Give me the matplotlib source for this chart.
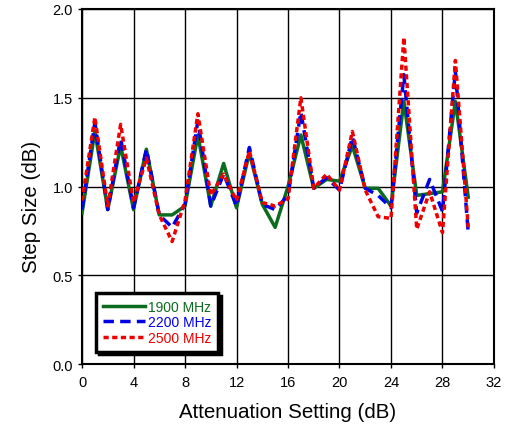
import matplotlib
matplotlib.use('Agg')
import matplotlib.pyplot as plt
import numpy as np

plt.rcParams['font.family'] = ['Liberation Sans', 'DejaVu Sans']

# attenuation setting (dB)
atten = np.arange(0, 31)

# step size (dB)
step_1900 = [0.85, 1.31, 0.87, 1.23, 0.87, 1.21, 0.84, 0.84, 0.89, 1.29,
             0.89, 1.13, 0.88, 1.19, 0.90, 0.77, 1.00, 1.29, 0.99, 1.04,
             1.03, 1.23, 0.99, 0.99, 0.89, 1.48, 0.95, 0.96, 0.97, 1.48, 0.94]
step_2200 = [0.87, 1.36, 0.87, 1.27, 0.88, 1.21, 0.84, 0.77, 0.90, 1.37,
             0.89, 1.07, 0.89, 1.22, 0.90, 0.87, 0.95, 1.42, 0.99, 1.05,
             0.98, 1.28, 0.99, 0.95, 0.88, 1.63, 0.85, 1.04, 0.86, 1.65, 0.74]
step_2500 = [0.92, 1.39, 0.89, 1.35, 0.91, 1.16, 0.84, 0.69, 0.92, 1.41,
             0.95, 1.07, 0.92, 1.20, 0.91, 0.89, 0.93, 1.50, 0.99, 1.07,
             0.98, 1.31, 0.98, 0.83, 0.82, 1.84, 0.76, 0.97, 0.74, 1.71, 0.77]

labels = ['1900 MHz', '2200 MHz', '2500 MHz']
colors = ['#0b6b1f', '#0000e6', '#ee0000']

fig = plt.figure(figsize=(5.05, 4.31), dpi=100)
ax = fig.add_axes([0.1624, 0.1531, 0.8158, 0.8237])

ax.plot(atten, step_1900, color=colors[0], lw=2.5, label=labels[0], zorder=3)
ax.plot(atten, step_2200, color=colors[1], lw=2.5, dashes=(3, 1.8), label=labels[1], zorder=4)
ax.plot(atten, step_2500, color=colors[2], lw=2.5, dashes=(1.5, 1), label=labels[2], zorder=5)

ax.set_xlim(0, 32)
ax.set_ylim(0, 2.0)
ax.set_xticks(np.arange(0, 33, 4))
ax.set_yticks(np.arange(0, 2.01, 0.5))
ax.yaxis.set_major_formatter(matplotlib.ticker.FormatStrFormatter('%.1f'))
ax.grid(True, color='black', lw=1)
ax.tick_params(labelsize=10.5, length=3, width=1, color='black')
ax.tick_params(axis='x', pad=5)
for s in ax.spines.values():
    s.set_linewidth(1.5)

ax.set_xlabel('Attenuation Setting (dB)', fontsize=14.8, labelpad=9)
ax.set_ylabel('Step Size (dB)', fontsize=14.8)
ax.yaxis.set_label_coords(-0.1, 0.445)

leg = ax.legend(loc='lower left', bbox_to_anchor=(0.035, 0.035), fontsize=10,
                frameon=True, fancybox=False, framealpha=1,
                shadow={'color': 'black', 'alpha': 1},
                handlelength=3.0, handletextpad=0.2, borderpad=0.5,
                labelspacing=0.1, borderaxespad=0)
leg.get_frame().set_edgecolor('black')
leg.get_frame().set_linewidth(2.5)
for txt, c in zip(leg.get_texts(), colors):
    txt.set_color(c)

fig.savefig('out.png', dpi=100)
